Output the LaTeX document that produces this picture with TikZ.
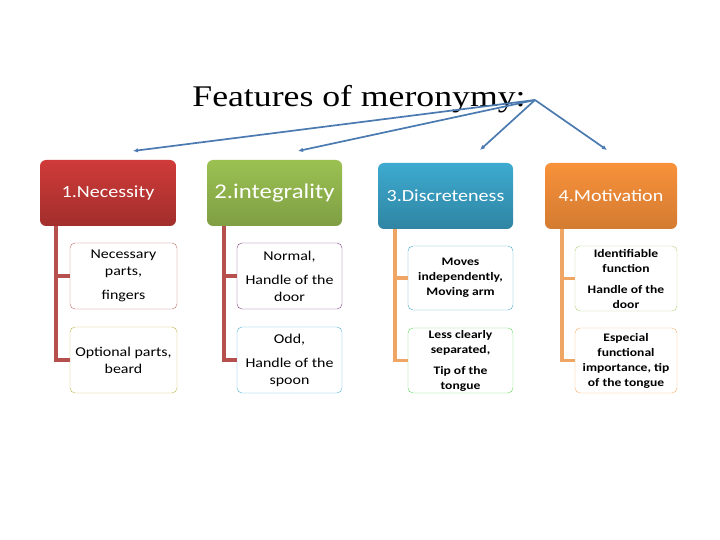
\documentclass[tikz,border=0pt]{standalone}
\usepackage{fontspec}
\setmainfont[FakeStretch=1.18]{Carlito}
\newfontfamily\titlefont[FakeStretch=1.19]{Liberation Serif}
\usepackage{tikz}
\usetikzlibrary{positioning,arrows.meta}

\definecolor{necred}{HTML}{CF3B39}
\definecolor{intgreen}{HTML}{9BC152}
\definecolor{disblue}{HTML}{3DAAD0}
\definecolor{motorange}{HTML}{F8913A}
\definecolor{rosyline}{HTML}{B5504F}
\definecolor{tanline}{HTML}{EFA665}
\definecolor{arrowblue}{HTML}{4A7AB0}

\begin{document}
\begin{tikzpicture}
        [x=1pt, y=-1pt,
        head/.style={rounded corners=6pt, minimum height=66pt, inner sep=0pt,
            text=white, align=center},
        leaf/.style={draw, thin, rounded corners=5pt, minimum height=66pt,
            inner sep=0pt, align=center, text=black,
            font=\fontsize{13.5}{17}\selectfont},
        boldleaf/.style={leaf, font=\bfseries\fontsize{11.5}{15}\selectfont},
        branch/.style={line width=3.5pt},
        pointer/.style={draw=arrowblue, line width=1.7pt,
            -{Latex[length=5pt,width=4.5pt]}}]
        \useasboundingbox (0,0) rectangle (720,540);

        % title and its pointers
        \node (title) at (359,99) {\titlefont\fontsize{30}{34}\selectfont Features of meronymy:};
        \coordinate (apex) at (535,100);

        % the four feature boxes
        \node [head, minimum width=136pt, top color=necred, bottom color=necred!78!black,
            font=\fontsize{17}{20}\selectfont] (necessity) at (108,193) {1.Necessity};
        \node [head, minimum width=135pt, top color=intgreen, bottom color=intgreen!82!black,
            font=\fontsize{21}{24}\selectfont] (integrality) at (274.5,193) {2.integrality};
        \node [head, minimum width=135pt, top color=disblue, bottom color=disblue!78!black,
            font=\fontsize{17}{20}\selectfont] (discreteness) at (445.5,196) {3.Discreteness};
        \node [head, minimum width=132pt, top color=motorange, bottom color=motorange!85!black,
            font=\fontsize{17}{20}\selectfont] (motivation) at (611,196) {4.Motivation};

        \coordinate (necend) at (133,151);
        \coordinate (intend) at (298,151);
        \coordinate (disend) at (480,150);
        \coordinate (motend) at (607,150);
        \draw [pointer] (apex) -- (necend);
        \draw [pointer] (apex) -- (intend);
        \draw [pointer] (apex) -- (disend);
        \draw [pointer] (apex) -- (motend);

        % examples under each feature
        \node [leaf, minimum width=107pt, draw=rosyline!85] (nec1) at (123.5,276)
            {Necessary\\parts,\\[7pt]fingers};
        \node [leaf, minimum width=107pt, draw=olive!60!white] (nec2) at (123.5,360)
            {Optional parts,\\beard};
        \node [leaf, minimum width=105pt, draw=violet!50!gray] (int1) at (289.5,276)
            {Normal,\\[7pt]Handle of the\\door};
        \node [leaf, minimum width=105pt, draw=disblue!90] (int2) at (289.5,360)
            {Odd,\\[7pt]Handle of the\\spoon};
        \node [boldleaf, minimum width=105pt, minimum height=64pt, draw=disblue!90!gray] (dis1) at (460.5,278)
            {Moves\\independently,\\Moving arm};
        \node [boldleaf, minimum width=105pt, minimum height=65pt, draw=green!60!gray!80] (dis2) at (460.5,360.5)
            {Less clearly\\separated,\\[6pt]Tip of the\\tongue};
        \node [boldleaf, minimum width=102pt, minimum height=65pt, draw=intgreen!75] (mot1) at (626,278.5)
            {Identifiable\\function\\[6pt]Handle of the\\door};
        \node [boldleaf, minimum width=102pt, minimum height=65pt, draw=motorange!75] (mot2) at (626,360.5)
            {Especial\\functional\\importance, tip\\of the tongue};

        % connectors
        \draw [branch, rosyline] ([xshift=-14pt]nec1.west |- necessity.south) |- (nec2.west);
        \draw [branch, rosyline] ([xshift=-14pt]nec1.west) -- (nec1.west);
        \draw [branch, rosyline] ([xshift=-13pt]int1.west |- integrality.south) |- (int2.west);
        \draw [branch, rosyline] ([xshift=-13pt]int1.west) -- (int1.west);
        \draw [branch, tanline] ([xshift=-13pt]dis1.west |- discreteness.south) |- (dis2.west);
        \draw [branch, tanline] ([xshift=-13pt]dis1.west) -- (dis1.west);
        \draw [branch, tanline] ([xshift=-13pt]mot1.west |- motivation.south) |- (mot2.west);
        \draw [branch, tanline] ([xshift=-13pt]mot1.west) -- (mot1.west);
\end{tikzpicture}
\end{document}
